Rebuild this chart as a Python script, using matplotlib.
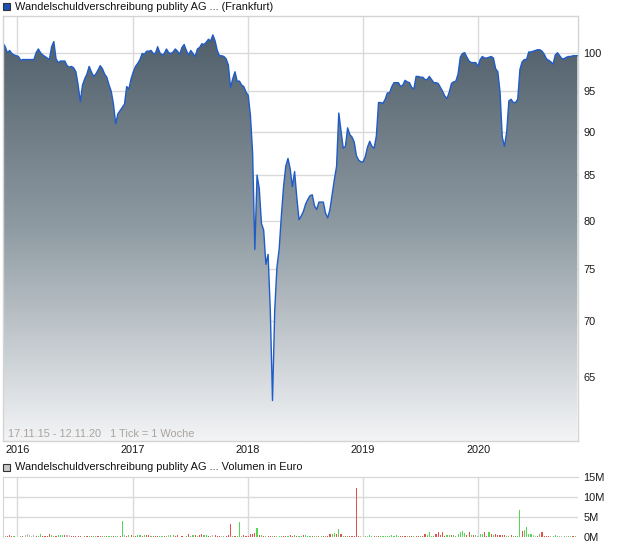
import numpy as np
import pandas as pd
import matplotlib
matplotlib.use('Agg')
import matplotlib.pyplot as plt
import matplotlib.dates as mdates
from matplotlib.colors import LinearSegmentedColormap
from matplotlib.patches import Rectangle, Polygon
from matplotlib.ticker import FixedLocator, NullLocator

plt.rcParams['font.family'] = ['Liberation Sans', 'DejaVu Sans']

# weekly quotes 17.11.15 - 12.11.20
weeks = pd.date_range('2015-11-17', periods=261, freq='7D')

price = [
    101.3, 100.8, 100.0, 100.3, 99.9, 99.7, 99.6, 99.5, 99.0, 99.1,
    99.1, 99.1, 99.1, 99.1, 99.1, 100.0, 100.5, 100.0, 99.7, 99.5,
    99.3, 99.1, 100.8, 101.5, 99.2, 98.7, 98.9, 98.9, 98.9, 98.3,
    98.1, 98.2, 98.0, 97.5, 95.8, 93.7, 95.8, 96.6, 97.2, 98.2,
    97.5, 96.9, 97.2, 97.7, 98.3, 97.9, 97.2, 96.8, 95.8, 95.0,
    93.4, 91.0, 92.2, 92.6, 93.0, 93.4, 95.6, 95.3, 96.6, 97.5,
    98.2, 98.6, 99.1, 99.9, 99.8, 100.2, 100.2, 100.3, 99.9, 99.9,
    100.8, 100.0, 99.7, 99.9, 100.5, 100.0, 99.9, 100.1, 100.5, 100.2,
    99.8, 100.7, 101.1, 100.3, 99.7, 100.3, 99.9, 99.5, 100.5, 100.7,
    101.2, 101.1, 101.4, 101.8, 101.6, 102.4, 101.6, 100.3, 99.6, 99.6,
    99.5, 99.2, 98.4, 95.5, 96.6, 97.5, 96.3, 96.3, 95.8, 95.6,
    94.9, 94.5, 92.0, 87.5, 77.0, 85.0, 83.5, 79.7, 79.0, 75.5,
    76.5, 71.0, 63.0, 71.0, 75.2, 77.0, 80.5, 83.7, 86.0, 86.9,
    85.7, 83.7, 85.4, 82.5, 80.1, 80.5, 81.0, 81.8, 82.3, 82.7,
    82.8, 81.6, 81.2, 82.0, 82.0, 82.0, 80.8, 80.3, 81.2, 82.8,
    84.5, 86.0, 92.3, 90.2, 88.1, 88.3, 90.5, 89.7, 89.4, 88.8,
    87.2, 86.7, 86.5, 86.5, 87.1, 88.2, 88.9, 88.3, 88.1, 89.5,
    93.6, 93.6, 93.5, 94.0, 94.8, 94.8, 95.6, 96.1, 96.1, 96.1,
    95.6, 95.8, 96.4, 96.2, 96.1, 95.5, 95.3, 96.9, 96.9, 96.8,
    96.8, 96.5, 96.5, 96.9, 96.5, 96.1, 96.1, 96.0, 95.5, 95.0,
    94.4, 94.1, 94.9, 96.0, 96.2, 96.3, 97.2, 99.4, 99.9, 100.0,
    99.4, 98.9, 98.7, 98.7, 98.7, 98.2, 99.1, 99.5, 99.3, 99.3,
    99.4, 99.5, 99.3, 97.9, 97.5, 94.9, 89.4, 88.3, 90.0, 93.8,
    94.0, 93.6, 93.6, 94.0, 97.8, 98.8, 99.1, 99.1, 100.1, 100.1,
    100.2, 100.3, 100.4, 100.4, 100.2, 99.8, 99.2, 99.0, 98.8, 98.5,
    99.7, 100.0, 99.6, 99.2, 99.2, 99.4, 99.5, 99.5, 99.6, 99.6, 99.6,
]

# weekly volume in million euro
volume_m = [
    0.15, 0.15, 0.35, 0.4, 0.3, 0.15, 0.05, 0.05, 0.15, 0.25,
    0.4, 0.65, 0.5, 0.25, 0.4, 0.3, 0.25, 0.65, 0.25, 0.25,
    0.25, 0.65, 0.5, 0.35, 0.35, 0.6, 0.4, 0.4, 0.4, 0.5,
    0.6, 0.25, 0.25, 0.25, 0.15, 0.35, 0.1, 0.15, 0.15, 0.15,
    0.15, 0.15, 0.15, 0.15, 0.35, 0.25, 0.15, 0.15, 0.15, 0.15,
    0.35, 0.25, 0.35, 0.25, 3.9, 0.4, 0.25, 0.6, 0.4, 0.15,
    0.25, 0.4, 0.6, 0.25, 0.5, 0.6, 0.4, 0.25, 0.15, 0.25,
    0.25, 0.35, 0.25, 0.15, 0.25, 0.5, 0.4, 0.4, 0.35, 0.4,
    0.1, 0.25, 0.1, 0.25, 0.65, 0.15, 0.4, 0.6, 0.25, 0.5,
    0.65, 0.4, 0.6, 0.15, 0.35, 0.4, 0.5, 0.35, 0.35, 0.15,
    0.25, 0.2, 0.4, 3.2, 0.25, 0.35, 0.25, 3.7, 0.35, 0.4,
    0.35, 0.15, 0.65, 0.65, 1.0, 2.3, 0.4, 0.4, 0.35, 0.35,
    0.35, 0.25, 0.25, 0.35, 0.35, 0.35, 0.35, 0.25, 0.15, 0.35,
    0.5, 0.35, 0.5, 0.25, 0.15, 0.25, 0.5, 0.5, 0.15, 0.25,
    0.25, 0.25, 0.15, 0.15, 0.15, 0.35, 0.25, 0.15, 0.65, 0.75,
    1.0, 0.85, 2.0, 0.65, 0.35, 0.25, 0.25, 0.15, 0.15, 0.25,
    12.2, 0.25, 0.15, 0.15, 0.15, 0.15, 0.5, 0.25, 0.25, 0.35,
    0.15, 0.25, 0.25, 0.25, 0.25, 0.3, 0.4, 0.25, 0.4, 0.25,
    0.15, 0.15, 0.15, 0.25, 0.2, 0.15, 0.15, 0.25, 0.15, 0.35,
    0.35, 0.65, 0.4, 1.3, 0.25, 0.35, 0.65, 1.3, 0.6, 1.25,
    0.35, 0.5, 0.4, 0.4, 0.4, 0.35, 0.85, 1.25, 1.4, 1.0,
    0.4, 1.25, 0.5, 0.6, 0.4, 0.15, 0.85, 0.65, 1.15, 0.35,
    1.15, 0.85, 0.4, 0.85, 0.4, 0.4, 0.5, 0.5, 0.35, 0.25,
    0.6, 0.35, 0.25, 0.35, 6.8, 1.5, 1.7, 2.5, 0.85, 0.65,
    0.4, 0.25, 0.15, 0.85, 1.3, 0.25, 0.25, 0.25, 0.15, 0.15,
    0.4, 0.25, 0.15, 0.15, 0.15, 0.15, 0.15, 0.15, 0.15, 0.15, 0.1,
]

# g = up week, r = down week, n = unchanged
vol_dir = ("ggrrrgnngr" "nnnnnrggrr" "rrggrgggrn" "nrrrrrggrg" "rggrrggrgg"
           "rggrgnrgrg" "rggrgrrgrr" "rggrgnggrr" "grggrggrgr" "rggrgnrrrn"
           "grrrgrgggr" "rrrrrgrgrg" "rrgrgggrrg" "rrgrggrggg" "rggrgrgrrg"
           "grgrgrgrrr" "rrnngnggrg" "rggggggggg" "rrrgrrgrrg" "rrggggrrrr"
           "rggrgggggg" "rrgrgnggrr" "grgrrrrrgg" "rgrggrgggg" "nnrgrrrrng"
           "ggnngngnrgg")

year_labels = ['2016', '2017', '2018', '2019', '2020']
price_ticks = [65, 70, 75, 80, 85, 90, 95, 100]
vol_ticks = [0, 5, 10, 15]

W, H = 620, 546
fig = plt.figure(figsize=(W / 100, H / 100), dpi=100)
grid_c = '#dadada'
fs = 7.9

x = mdates.date2num(weeks)
x0 = mdates.datestr2num('2015-11-17')
x1 = mdates.datestr2num('2020-11-12')
year_x = [mdates.datestr2num(f'{y}-01-01') for y in year_labels]

# ---- price panel
ax = fig.add_axes([3 / W, 1 - 441 / H, 575 / W, 425 / H])
ax.set_yscale('log')
ylo, yhi = 59.7, 105.0

for yv in price_ticks:
    ax.axhline(yv, color=grid_c, lw=1, zorder=0.5)
for xv in year_x:
    ax.axvline(xv, color=grid_c, lw=1, zorder=0.5)

cmap = LinearSegmentedColormap.from_list('fill', ['#4a5965', '#8f9ba3', '#f3f4f6'])
grad = np.linspace(0, 1, 256).reshape(-1, 1)
im = ax.imshow(grad, cmap=cmap, extent=[0, 1, 0, 1], transform=ax.transAxes,
               aspect='auto', origin='upper', zorder=1)
verts = [(x[0], ylo)] + list(zip(x, price)) + [(x[-1], ylo)]
poly = Polygon(verts, closed=True, transform=ax.transData,
               facecolor='none', edgecolor='none')
ax.add_patch(poly)
im.set_clip_path(poly)

ax.plot(x, price, color='#1f5cc8', lw=1.0, zorder=2)

ax.set_xlim(x0, x1)
ax.set_ylim(ylo, yhi)
ax.yaxis.set_major_locator(FixedLocator(price_ticks))
ax.yaxis.set_minor_locator(NullLocator())
ax.set_yticklabels([str(v) for v in price_ticks])
ax.yaxis.tick_right()
ax.set_xticks(year_x)
ax.set_xticklabels(year_labels)
ax.tick_params(length=0, labelsize=fs, colors='#1a1a1a', pad=3)
ax.tick_params(axis='y', pad=4)
for s in ax.spines.values():
    s.set_color('#d4d4d4')
    s.set_linewidth(1)

ax.text(5 / 575, 2 / 425, '17.11.15 - 12.11.20   1 Tick = 1 Woche',
        transform=ax.transAxes, fontsize=fs, color='#aaa49c', va='bottom', zorder=3)

# ---- volume panel
vax = fig.add_axes([3 / W, 1 - 537 / H, 575 / W, 60 / H])
for yv in vol_ticks[1:3]:
    vax.axhline(yv, color=grid_c, lw=1, zorder=0.5)
for xv in year_x:
    vax.axvline(xv, color=grid_c, lw=1, zorder=0.5)
colmap = {'g': '#55d655', 'r': '#e25050', 'n': '#b8b8b8'}
vax.bar(x, volume_m, width=3.6, color=[colmap[c] for c in vol_dir], lw=0,
        antialiased=False, zorder=2)
vax.set_xlim(x0, x1)
vax.set_ylim(0, 15)
vax.set_xticks([])
vax.set_yticks(vol_ticks)
vax.set_yticklabels([f'{v}M' for v in vol_ticks])
vax.yaxis.tick_right()
vax.tick_params(length=0, labelsize=fs, colors='#1a1a1a', pad=4)
vax.spines['right'].set_visible(False)
vax.spines['bottom'].set_visible(False)
for s in ('top', 'left'):
    vax.spines[s].set_color('#d4d4d4')

# ---- headers
fig.add_artist(Rectangle((3 / W, 1 - 10 / H), 7 / W, 7 / H, transform=fig.transFigure,
                         facecolor='#1c4fb8', edgecolor='#333333', lw=0.8))
fig.text(15 / W, 1 - 6.5 / H, 'Wandelschuldverschreibung publity AG ... (Frankfurt)',
         fontsize=fs, va='center', color='#111111')
fig.add_artist(Rectangle((3 / W, 1 - 471 / H), 7 / W, 7 / H, transform=fig.transFigure,
                         facecolor='#c8c8c8', edgecolor='#333333', lw=0.8))
fig.text(15 / W, 1 - 467.5 / H, 'Wandelschuldverschreibung publity AG ... Volumen in Euro',
         fontsize=fs, va='center', color='#111111')

fig.savefig('out.png', dpi=100)
